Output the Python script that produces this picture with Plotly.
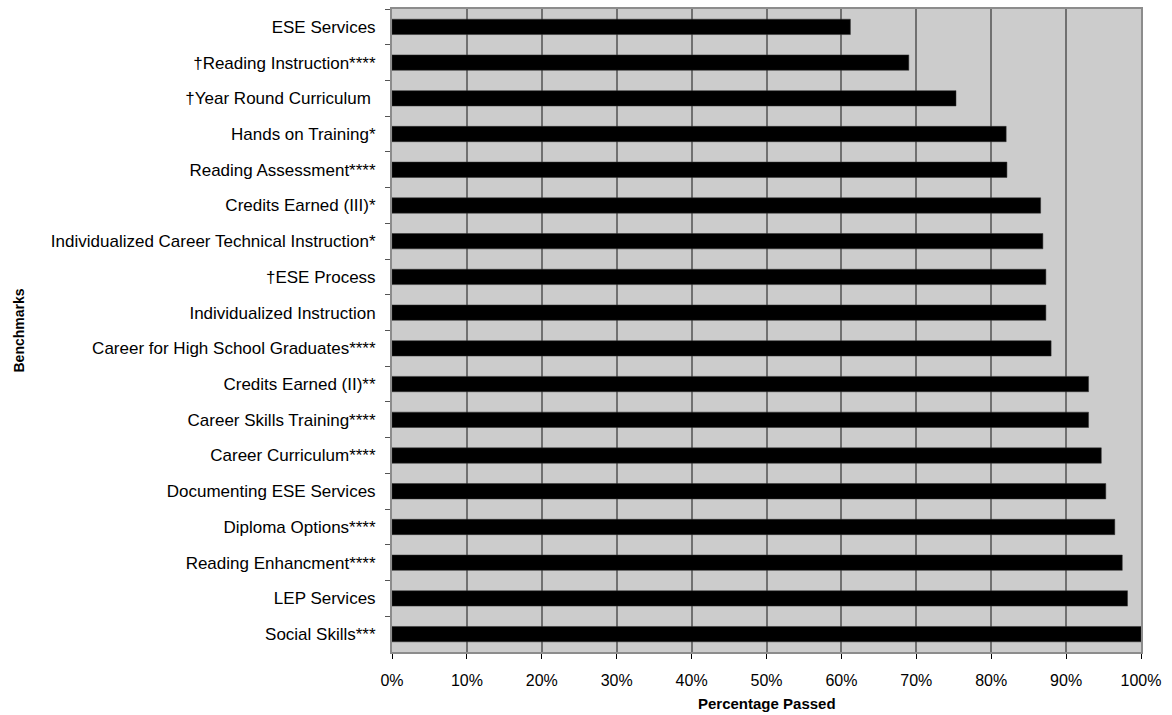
import plotly.graph_objects as go

# Benchmarks, listed top to bottom
benchmarks = [
    "ESE Services",
    "†Reading Instruction****",
    "†Year Round Curriculum ",
    "Hands on Training*",
    "Reading Assessment****",
    "Credits Earned (III)*",
    "Individualized Career Technical Instruction*",
    "†ESE Process",
    "Individualized Instruction",
    "Career for High School Graduates****",
    "Credits Earned (II)**",
    "Career Skills Training****",
    "Career Curriculum****",
    "Documenting ESE Services",
    "Diploma Options****",
    "Reading Enhancment****",
    "LEP Services",
    "Social Skills***",
]

# Share of programs passing each benchmark
pct_passed = [
    0.612, 0.690, 0.753, 0.820, 0.821, 0.866, 0.869, 0.873, 0.873,
    0.880, 0.930, 0.930, 0.947, 0.953, 0.965, 0.975, 0.982, 1.000,
]

x_ticks = [i / 10 for i in range(11)]
x_tick_text = [f"{i * 10}%" for i in range(11)]

font_family = "Liberation Sans, Arial, sans-serif"

fig = go.Figure(
    go.Bar(
        x=pct_passed,
        y=benchmarks,
        orientation="h",
        width=0.43,
        marker=dict(color="#000000", line=dict(color="#333333", width=0.5)),
        hovertemplate="%{y}: %{x:.1%}<extra></extra>",
    )
)

fig.update_layout(
    width=1172,
    height=715,
    margin=dict(l=392, r=31, t=7, b=63),
    paper_bgcolor="#FFFFFF",
    plot_bgcolor="#CCCCCC",
    showlegend=False,
    font=dict(family=font_family, color="#000000"),
    bargap=0.57,
)

fig.update_xaxes(
    range=[0, 1],
    tickvals=x_ticks,
    ticktext=x_tick_text,
    tickfont=dict(size=16, color="#000000"),
    ticks="outside",
    ticklen=5,
    tickcolor="#000000",
    ticklabelstandoff=8,
    showgrid=True,
    gridcolor="#707070",
    gridwidth=2,
    showline=True,
    linecolor="#8C8C8C",
    linewidth=2,
    mirror=True,
    zeroline=False,
    fixedrange=True,
)

fig.update_yaxes(
    autorange="reversed",
    categoryorder="array",
    categoryarray=benchmarks,
    tickfont=dict(size=17, color="#000000"),
    ticks="outside",
    tickson="boundaries",
    ticklen=5,
    tickcolor="#555555",
    ticklabelstandoff=11,
    showgrid=False,
    showline=True,
    linecolor="#8C8C8C",
    linewidth=2,
    mirror=True,
    fixedrange=True,
)

# Axis titles
fig.add_annotation(
    text="<b>Percentage Passed</b>",
    xref="paper", yref="paper",
    x=0.5, y=-0.0, yshift=-51,
    showarrow=False,
    font=dict(size=15, family=font_family, color="#000000"),
    xanchor="center", yanchor="middle",
)
fig.add_annotation(
    text="<b>Benchmarks</b>",
    xref="paper", yref="paper",
    x=0, xshift=-374, y=0.5,
    textangle=-90,
    showarrow=False,
    font=dict(size=14, family=font_family, color="#000000"),
    xanchor="center", yanchor="middle",
)

fig.write_html("out.html")
